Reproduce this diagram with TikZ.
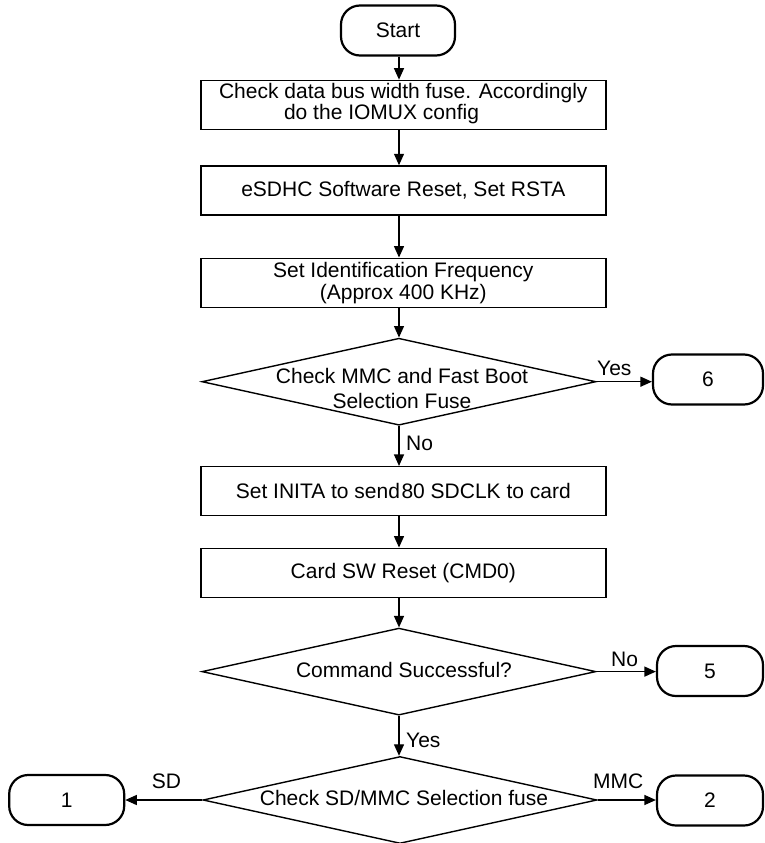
\documentclass[tikz,border=0pt]{standalone}
\usepackage{fontspec}
\setmainfont{Liberation Sans}
\usetikzlibrary{shapes.geometric,arrows.meta}
\begin{document}
\begin{tikzpicture}[x=1pt,y=-1pt,
  font=\fontsize{21}{22}\selectfont,
  box/.style={draw, line width=1.5pt, minimum width=405pt, minimum height=49pt, inner sep=0pt, align=center},
  term/.style={draw, line width=2.2pt, rounded corners=19pt, inner sep=0pt, minimum height=50pt},
  dia/.style={draw, diamond, line width=1.4pt, minimum width=394pt, minimum height=87pt, inner sep=0pt},
  dtext/.style={inner sep=0pt, align=center},
  lab/.style={inner sep=0pt},
  arr/.style={line width=1.3pt, -{Triangle[length=11.5pt,width=10pt]}}
]
\useasboundingbox (0,0) rectangle (764,843);
\coordinate (ax) at (399,0);

\node[term, minimum width=114pt] (start) at (398,30.5) {Start};
\node[box] (b1) at (403.3,104.9) {\begin{tabular}{@{}l@{}}Check data bus width fuse. Accordingly\\[-1pt]\hspace*{65pt}do the IOMUX config\end{tabular}};
\node[box] (b2) at (403.3,190.5) {eSDHC Software Reset, Set RSTA};
\node[box] (b3) at (403.3,282.8) {Set Identification Frequency\\(Approx 400 KHz)};
\node[dia] (d1) at (398.9,381.7) {};
\node[dtext, font=\fontsize{21}{25}\selectfont] (d1t) at (402,388) {Check MMC and Fast Boot\\Selection Fuse};
\node[term, minimum width=110pt] (t6) at (708,379.5) {6};
\node[box] (b4) at (403.3,491.2) {Set INITA to send\kern1.5pt 80 SDCLK to card};
\node[box] (b5) at (403.3,572.8) {Card SW Reset (CMD0)};
\node[dia] (d2) at (398.9,671.6) {};
\node[dtext] (d2t) at (404,669.5) {Command Successful?};
\node[term, minimum width=106pt] (t5) at (710,671) {5};
\node[dia] (d3) at (400,800) {};
\node[dtext] (d3t) at (404,797.5) {Check SD/MMC Selection fuse};
\node[term, minimum width=115pt] (t1) at (66.7,800) {1};
\node[term, minimum width=106pt] (t2) at (710,800.5) {2};

\draw[arr] (start.south -| ax) -- (b1.north -| ax);
\draw[arr] (b1.south -| ax) -- (b2.north -| ax);
\draw[arr] (b2.south -| ax) -- (b3.north -| ax);
\draw[arr] (b3.south -| ax) -- (d1.north -| ax);
\draw[arr] (d1.south -| ax) -- (b4.north -| ax);
\draw[arr] (b4.south -| ax) -- (b5.north -| ax);
\draw[arr] (b5.south -| ax) -- (d2.north -| ax);
\draw[arr] (d2.south -| ax) -- (d3.north -| ax);
\draw[arr] (d1.east) -- (d1.east -| t6.west);
\draw[arr] (d2.east) -- (d2.east -| t5.west);
\draw[arr] (d3.east) -- (d3.east -| t2.west);
\draw[arr] (d3.west) -- (d3.west -| t1.east);

\node[lab, anchor=base west] (lyes1) at (597,375) {Yes};
\node[lab, anchor=base west] (lno1) at (406,450) {No};
\node[lab, anchor=base west] (lno2) at (611,666.7) {No};
\node[lab, anchor=base west] (lyes2) at (406,747) {Yes};
\node[lab, anchor=base west] (lmmc) at (593,788) {MMC};
\node[lab, anchor=base west] (lsd) at (151.7,788) {SD};
\end{tikzpicture}
\end{document}
